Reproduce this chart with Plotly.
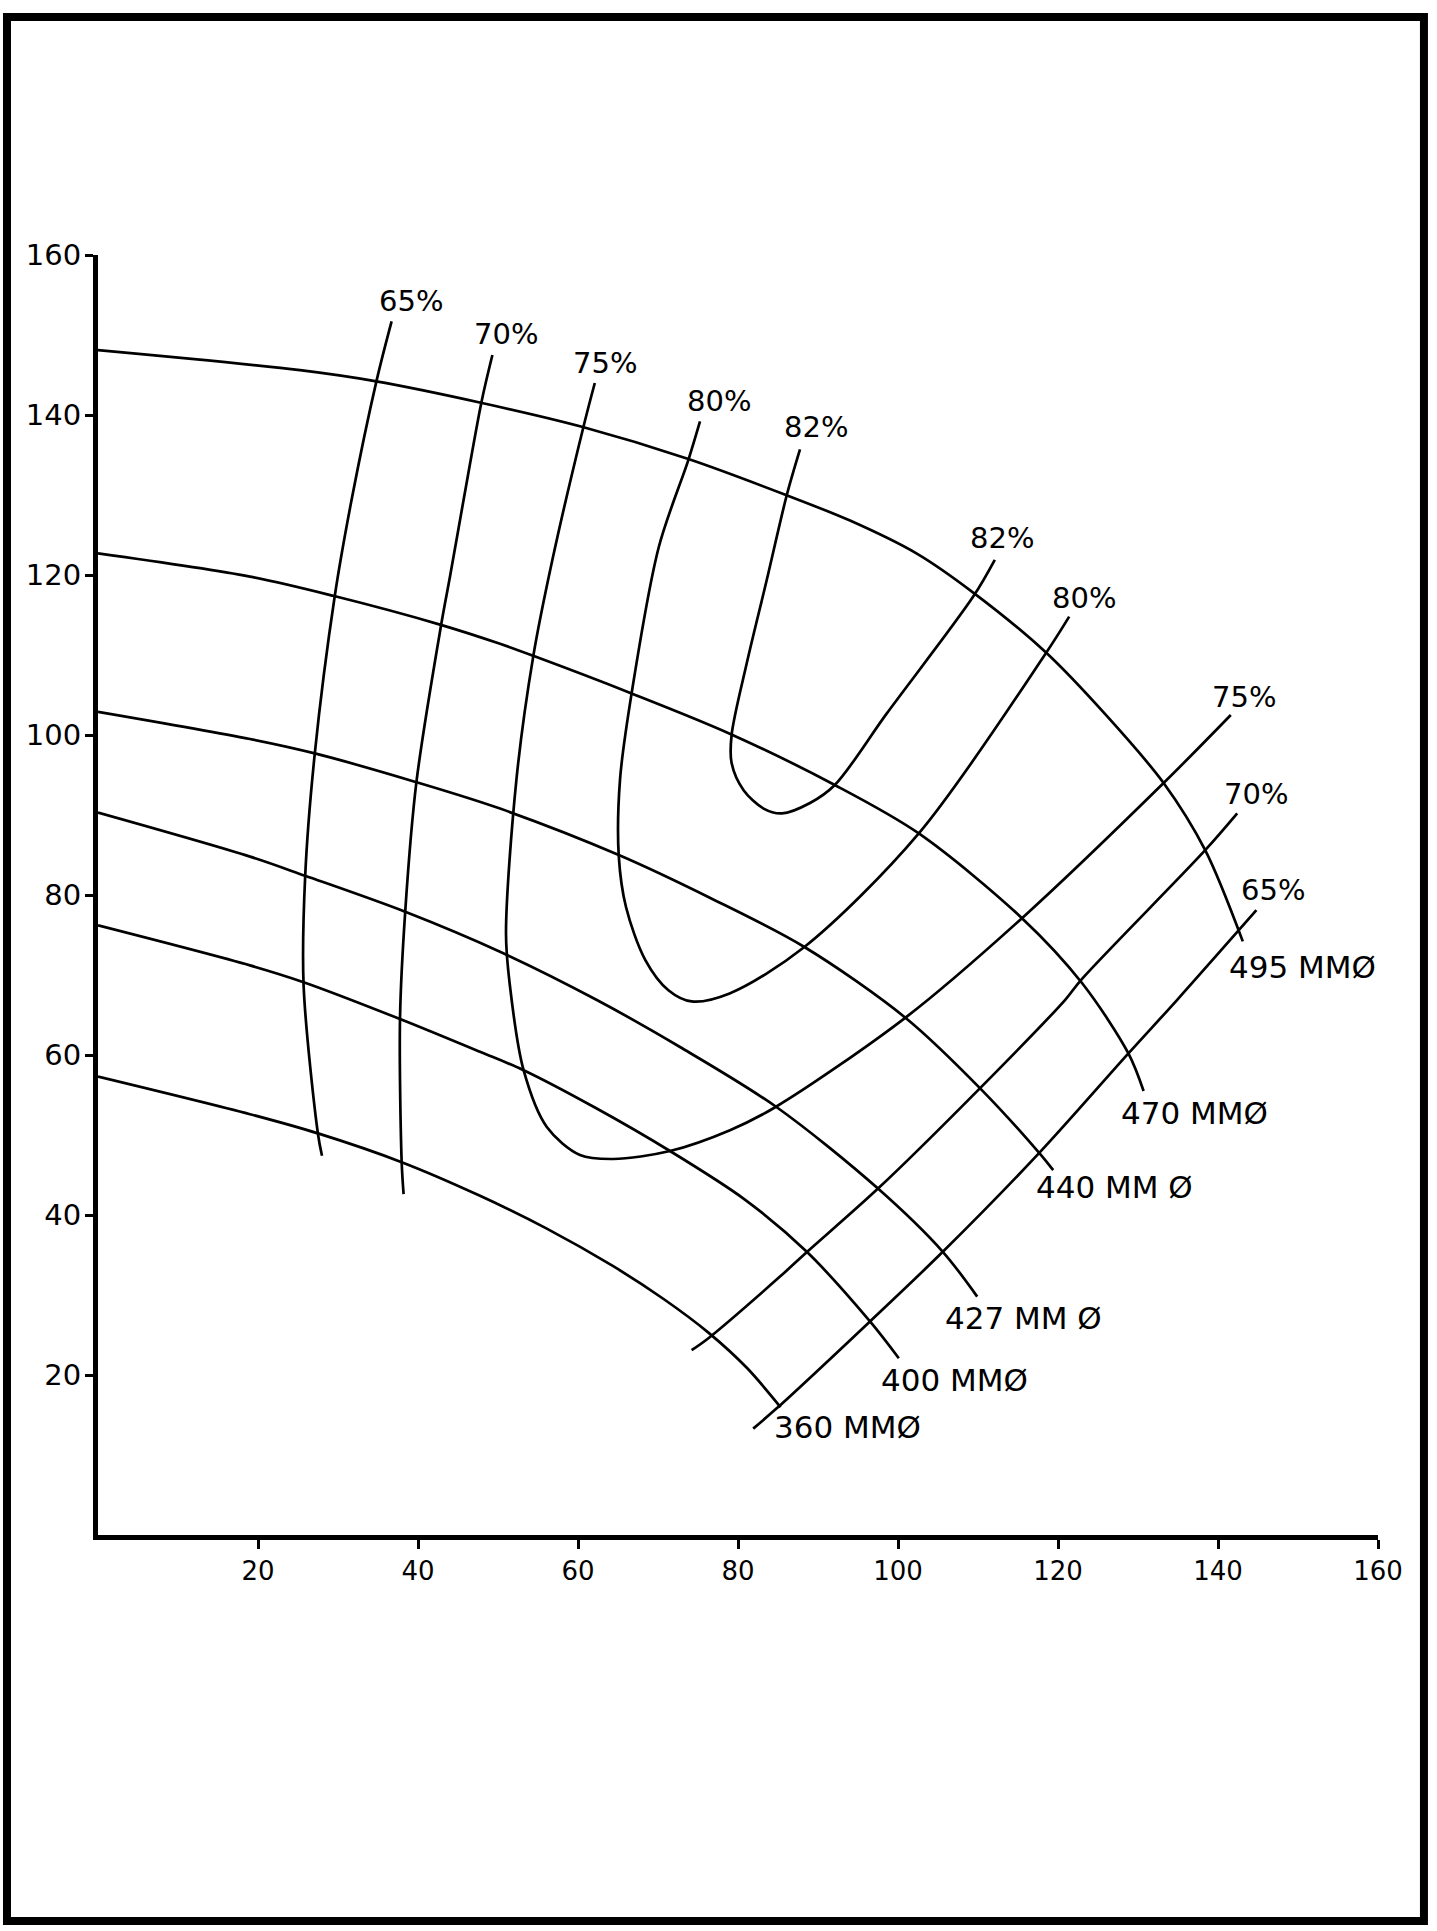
import plotly.graph_objects as go

# ---------------- data ----------------
# impeller-diameter head curves: capacity (x) and head (y)
d495_x = [0, 25.25, 34.8, 48, 60.6, 73.8, 86, 94, 102.3, 109.4, 118.4, 125.9, 133.2, 138.4, 143.1]
d495_y = [148.1, 145.6, 144.2, 141.5, 138.5, 134.5, 130, 126.8, 122.7, 117.8, 110.4, 102.6, 94, 85.6, 74.2]

d470_x = [0, 19, 29.4, 42.75, 50.25, 54.4, 66.7, 78.9, 92.1, 102.6, 115.5, 123, 128.8, 130.7]
d470_y = [122.7, 119.8, 117.4, 113.8, 111.4, 109.9, 105.2, 100.2, 93.75, 87.7, 77.1, 69, 60.2, 55.5]

d440_x = [0, 19, 27.1, 39.8, 50.25, 65.1, 76.6, 88.3, 101, 110.3, 117.7, 119.4]
d440_y = [102.9, 99.5, 97.7, 94.1, 90.8, 85, 79.6, 73.5, 64.6, 55.8, 47.7, 45.6]

d427_x = [0, 19, 25.9, 38.4, 50.25, 62.3, 72.75, 84.8, 97.5, 105.6, 109.9]
d427_y = [90.3, 84.8, 82.4, 77.9, 72.9, 66.9, 61.0, 53.5, 43.3, 35.4, 29.8]

d400_x = [0, 19, 25.7, 37.75, 47.75, 53.2, 62, 71.5, 80.9, 88.6, 96.5, 100.1]
d400_y = [76.2, 71.2, 69.1, 64.5, 60.4, 58.1, 53.5, 48, 41.9, 35.4, 26.7, 22.1]

d360_x = [0, 19, 27.5, 37.96, 47.75, 56.1, 64.4, 70.7, 76.3, 81.1, 84.8, 85.3]
d360_y = [57.3, 52.6, 50.2, 46.6, 42.4, 38.3, 33.6, 29.5, 25.3, 20.9, 16.6, 15.95]

diam_labels = ["495 MMØ", "470 MMØ", "440 MM Ø", "427 MM Ø", "400 MMØ", "360 MMØ"]

# iso-efficiency curves
e65a_x = [36.7, 34.8, 31.7, 29.6, 27.1, 25.9, 25.7, 27.5, 28]
e65a_y = [151.7, 144.2, 129.4, 117.4, 97.7, 82.4, 68.7, 50.1, 47.4]
e65b_x = [81.9, 84.8, 96.5, 105.6, 117.6, 128.8, 134.9, 144.8]
e65b_y = [13.3, 15.8, 26.7, 35.4, 47.7, 60.2, 66.9, 78.1]

e70a_x = [49.3, 47.95, 45.7, 44, 42.9, 39.8, 38.4, 37.75, 37.96, 38.2]
e70a_y = [147.5, 141.7, 129.4, 119.8, 113.8, 94.1, 77.9, 64.5, 46.6, 42.6]
e70b_x = [74.2, 76.3, 85.25, 88.65, 97.5, 110.2, 120.9, 122.9, 138.4, 142.4]
e70b_y = [23.1, 24.6, 32.3, 35.4, 43.3, 55.8, 66.9, 69.4, 85.6, 90.2]

e75_x = [62.1, 60.7, 56.8, 54.4, 52.3, 51, 51.45, 53.2, 56.1, 60.25, 64.4, 71.5, 79, 84.7, 101.1, 115.6, 133.2, 141.6]
e75_y = [144, 138.6, 121.9, 109.8, 94.4, 75.2, 69, 58.1, 51, 47.5, 47, 48, 50.6, 53.5, 64.8, 77.2, 94, 102.5]

e80_x = [75.25, 73.8, 70.1, 66.7, 65.25, 65.1, 66, 68.4, 71.3, 74.2, 78.95, 88.3, 102.6, 118.4, 121.4]
e80_y = [139.2, 134.4, 123.5, 105.2, 94.4, 84.8, 78.5, 71.9, 68.1, 66.7, 67.7, 73.5, 87.7, 110.1, 114.8]

e82_x = [87.75, 86.1, 83.6, 81.1, 79.2, 79.2, 80.7, 83.2, 85.5, 89, 92.1, 98.6, 109.4, 112.1]
e82_y = [135.7, 130, 119.4, 109, 100, 96.5, 93.1, 90.8, 90.2, 91.5, 93.75, 102.7, 117.3, 121.9]

eff_labels = ["65%", "70%", "75%", "80%", "82%"]

x_ticks = [20, 40, 60, 80, 100, 120, 140, 160]
y_ticks = [20, 40, 60, 80, 100, 120, 140, 160]

# ---------------- figure ----------------
FONT = "DejaVu Sans"
LINE = dict(color="black", width=2.7, shape="spline", smoothing=0.9)

fig = go.Figure()

diam_curves = [(d495_x, d495_y), (d470_x, d470_y), (d440_x, d440_y),
               (d427_x, d427_y), (d400_x, d400_y), (d360_x, d360_y)]
for (xs, ys), name in zip(diam_curves, diam_labels):
    fig.add_trace(go.Scatter(x=xs, y=ys, mode="lines", line=LINE, name=name,
                             hoverinfo="skip", showlegend=False))

eff_curves = [("65%", e65a_x, e65a_y), ("65%", e65b_x, e65b_y),
              ("70%", e70a_x, e70a_y), ("70%", e70b_x, e70b_y),
              ("75%", e75_x, e75_y), ("80%", e80_x, e80_y), ("82%", e82_x, e82_y)]
for name, xs, ys in eff_curves:
    fig.add_trace(go.Scatter(x=xs, y=ys, mode="lines", line=LINE, name=name,
                             hoverinfo="skip", showlegend=False))

annots = []
tf = dict(family=FONT, size=29, color="black")
tfd = dict(family=FONT, size=31, color="black")

# efficiency labels at curve ends (pixel offsets from the end point)
eff_label_spec = [
    (eff_labels[0], e65a_x[0], e65a_y[0], 19, 20),
    (eff_labels[1], e70a_x[0], e70a_y[0], 14, 21),
    (eff_labels[2], e75_x[0], e75_y[0], 10, 20),
    (eff_labels[3], e80_x[0], e80_y[0], 19, 20),
    (eff_labels[4], e82_x[0], e82_y[0], 16, 22),
    (eff_labels[4], e82_x[-1], e82_y[-1], 7, 22),
    (eff_labels[3], e80_x[-1], e80_y[-1], 15, 19),
    (eff_labels[2], e75_x[-1], e75_y[-1], 13, 18),
    (eff_labels[1], e70b_x[-1], e70b_y[-1], 19, 19),
    (eff_labels[0], e65b_x[-1], e65b_y[-1], 17, 20),
]
for txt, x, y, dx, dy in eff_label_spec:
    annots.append(dict(x=x, y=y, xref="x", yref="y", text=txt, showarrow=False,
                       xshift=dx, yshift=dy, font=tf, xanchor="center", yanchor="middle"))

diam_shift = [(-16, -26), (-25, -22), (-19, -17), (-34, -21), (-20, -22), (-8, -20)]
for (xs, ys), txt, (dx, dy) in zip(diam_curves, diam_labels, diam_shift):
    annots.append(dict(x=xs[-1], y=ys[-1], xref="x", yref="y", text=txt, showarrow=False,
                       xshift=dx, yshift=dy, font=tfd, xanchor="left", yanchor="middle"))

fig.update_layout(
    width=1437, height=1931,
    margin=dict(l=98, r=59, t=255, b=396, pad=0),
    paper_bgcolor="white", plot_bgcolor="white",
    font=dict(family=FONT, color="black"),
    annotations=annots,
    shapes=[dict(type="rect", xref="paper", yref="paper",
                 x0=-0.0711, x1=1.0359, y0=-0.3016, y1=1.1859,
                 line=dict(color="black", width=8), fillcolor="rgba(0,0,0,0)")],
)

fig.update_xaxes(range=[0, 160], tickvals=x_ticks, ticktext=[str(v) for v in x_ticks],
                 showgrid=False, zeroline=False, showline=True, linecolor="black",
                 linewidth=5, ticks="outside", ticklen=9, tickwidth=3, tickcolor="black",
                 tickfont=dict(family=FONT, size=26, color="black"), fixedrange=True)
fig.update_yaxes(range=[0, 160], tickvals=y_ticks, ticktext=[str(v) for v in y_ticks],
                 showgrid=False, zeroline=False, showline=True, linecolor="black",
                 linewidth=5, ticks="outside", ticklen=8, tickwidth=3, tickcolor="black",
                 ticklabelstandoff=-2,
                 tickfont=dict(family=FONT, size=29, color="black"), fixedrange=True)

fig.write_html(
    "out.html",
    config={"displayModeBar": False},
    post_script="document.body.style.margin='0px';document.body.style.padding='0px';"
                "document.documentElement.style.margin='0px';",
)
